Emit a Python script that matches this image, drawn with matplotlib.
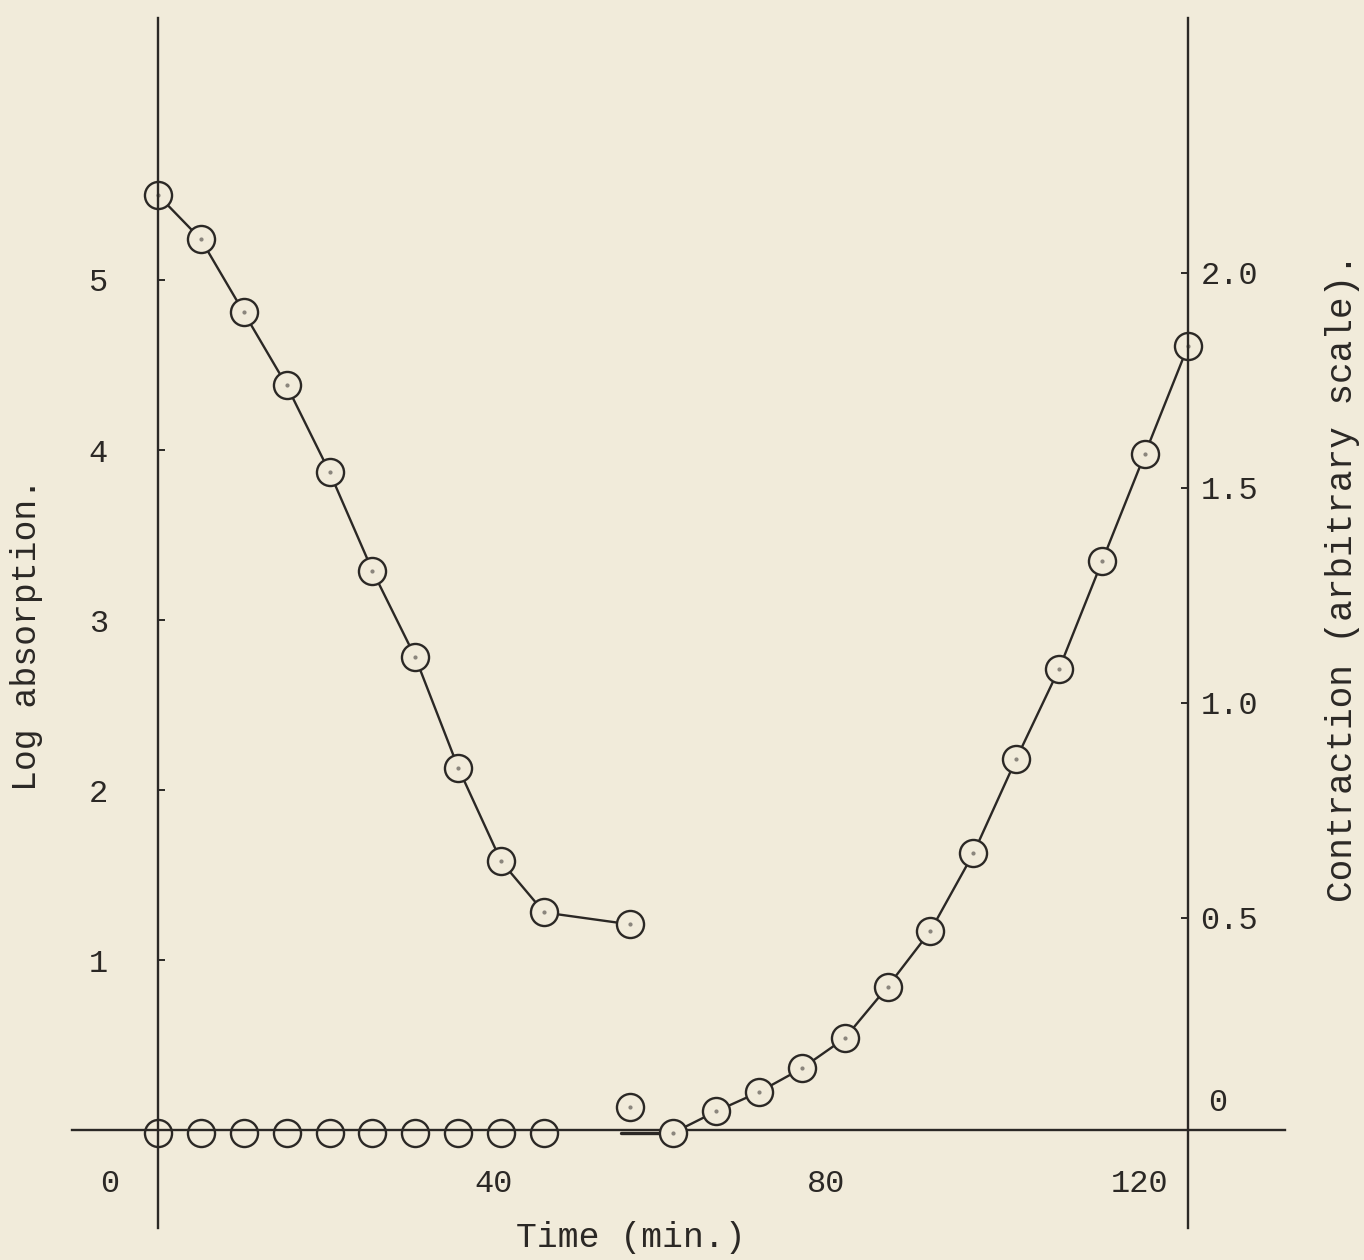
import matplotlib
matplotlib.use("Agg")
import matplotlib.pyplot as plt
from matplotlib.transforms import ScaledTranslation

# ---------------- data ----------------
abs_time = [0, 5, 10, 15, 20, 25, 30, 35, 40, 45, 55]
log_absorption = [5.50, 5.24, 4.81, 4.38, 3.87, 3.29, 2.78, 2.13, 1.58, 1.28, 1.21]

con_zero_time = [0, 5, 10, 15, 20, 25, 30, 35, 40, 45]
con_zero_val = [0, 0, 0, 0, 0, 0, 0, 0, 0, 0]

con_outlier_time = [55]
con_outlier_val = [0.06]

con_time = [60, 65, 70, 75, 80, 85, 90, 95, 100, 105, 110, 115, 120]
contraction = [0.0, 0.05, 0.095, 0.15, 0.22, 0.34, 0.47, 0.65, 0.87, 1.08, 1.33, 1.58, 1.83]

lead_in_time = [54, 60]
lead_in_val = [0, 0]

x_ticks = [0, 40, 80, 120]
x_tick_labels = ["0", "40", "80", "120"]
left_ticks = [1, 2, 3, 4, 5]
left_tick_labels = ["1", "2", "3", "4", "5"]
right_ticks = [0.5, 1.0, 1.5, 2.0]
right_tick_labels = ["0.5", "1.0", "1.5", "2.0"]

# ---------------- style ----------------
BG = "#F1EBDA"
INK = "#2b2825"
DOT = "#8a857c"
FONT = ["Liberation Mono", "DejaVu Sans Mono"]
W, H = 1364, 1260
TICK_FS = 23
TITLE_FS = 25

fig = plt.figure(figsize=(W / 100, H / 100), dpi=100, facecolor=BG)
ax = fig.add_axes([72 / W, 1 - 1228 / H, (1285 - 72) / W, (1228 - 18) / H])
ax.set_facecolor(BG)
ax.set_xlim(-10.0, 131.3)
ax.set_ylim(-0.576, 6.541)

ax2 = ax.twinx()
ax2.set_ylim(-0.221, 2.593)

for a in (ax, ax2):
    for s in a.spines.values():
        s.set_visible(False)
        s.set_color(INK)
        s.set_linewidth(1.7)

ax.spines["left"].set_visible(True)
ax.spines["left"].set_position(("data", 0))
ax.spines["bottom"].set_visible(True)
ax.spines["bottom"].set_position(("data", 0))
ax2.spines["right"].set_visible(True)
ax2.spines["right"].set_position(("data", 120))

# ticks
ax.set_yticks(left_ticks)
ax.set_yticklabels(left_tick_labels)
ax.tick_params(axis="y", direction="in", length=5, width=1.4, color=INK,
               pad=36, labelsize=TICK_FS, labelcolor=INK)
ax.set_xticks(x_ticks)
ax.set_xticklabels(x_tick_labels)
ax.tick_params(axis="x", length=0, pad=28, labelsize=TICK_FS, labelcolor=INK)
x_offsets = [-48, -8, -18, -48]
for lab, dx in zip(ax.get_xticklabels(), x_offsets):
    lab.set_transform(lab.get_transform() + ScaledTranslation(dx / 100, 0, fig.dpi_scale_trans))

ax2.set_yticks(right_ticks)
ax2.set_yticklabels(right_tick_labels)
ax2.tick_params(axis="y", direction="in", length=5, width=1.4, color=INK,
                pad=9, labelsize=TICK_FS, labelcolor=INK)
ax2.annotate("0", xy=(120, 0), xytext=(20, 30), textcoords="offset pixels",
             ha="left", va="center", fontsize=TICK_FS, color=INK, family=FONT)

for lab in ax.get_xticklabels() + ax.get_yticklabels() + ax2.get_yticklabels():
    lab.set_family(FONT)

# ---------------- series ----------------
mk = dict(marker="o", markersize=19.5, markeredgewidth=1.7, markeredgecolor=INK)

ax.plot(abs_time, log_absorption, color=INK, lw=1.7, markerfacecolor=BG, **mk)
ax.plot(abs_time, log_absorption, ls="none", marker="o", markersize=2, color=DOT)

ax2.plot(con_zero_time, con_zero_val, ls="none", markerfacecolor="none", **mk)
ax2.plot(con_outlier_time, con_outlier_val, ls="none", markerfacecolor=BG, **mk)
ax2.plot(con_outlier_time, con_outlier_val, ls="none", marker="o", markersize=2, color=DOT)
ax2.plot(lead_in_time, lead_in_val, color=INK, lw=2.4, solid_capstyle="round")
ax2.plot(con_time, contraction, color=INK, lw=1.7, markerfacecolor=BG, **mk)
ax2.plot(con_time, contraction, ls="none", marker="o", markersize=2, color=DOT)

# ---------------- axis titles ----------------
fig.text(631 / W, 1 - 1237 / H, "Time (min.)", ha="center", va="center",
         fontsize=TITLE_FS, color=INK, family=FONT)
fig.text(27 / W, 1 - 634 / H, "Log absorption.", ha="center", va="center",
         rotation=90, fontsize=TITLE_FS, color=INK, family=FONT)
fig.text(1343 / W, 1 - 578 / H, "Contraction (arbitrary scale).", ha="center", va="center",
         rotation=90, fontsize=TITLE_FS + 1, color=INK, family=FONT)

fig.savefig("out.png", dpi=100, facecolor=BG)
